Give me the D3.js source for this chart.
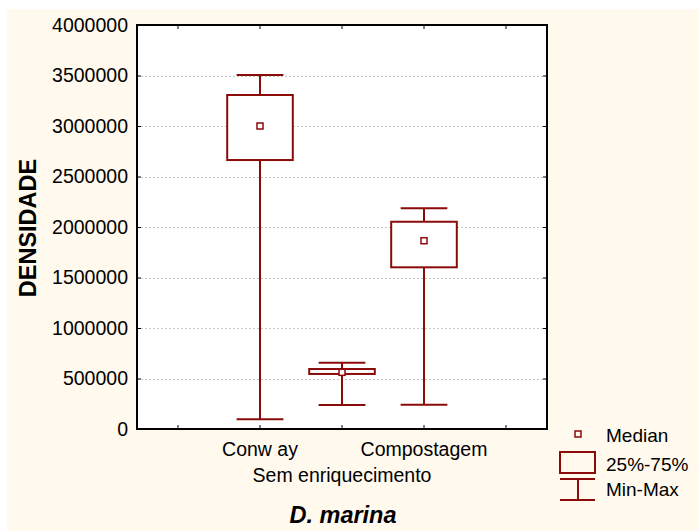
<!DOCTYPE html>
<html>
<head>
<meta charset="utf-8">
<script src="https://cdn.jsdelivr.net/npm/d3@7"></script>
<style>
  html, body { margin: 0; padding: 0; background: #fff; }
  #chart { width: 699px; height: 531px; }
  text { font-family: "Liberation Sans", Arial, sans-serif; fill: #000; }
</style>
</head>
<body>
<div id="chart"></div>
<script>
// box-plot values
const groups = ['Conw ay', 'Sem enriquecimento', 'Compostagem'];
const groupSlot = [1, 2, 3];          // which of the 5 x slots each box sits in
const slotCount = 5;
const mins    = [96000,   238000, 240000];
const q1s     = [2663000, 545000, 1601000];
const medians = [3000000, 561000, 1864000];
const q3s     = [3307000, 594000, 2052000];
const maxs    = [3505000, 656000, 2185000];
const yTicks  = [0, 500000, 1000000, 1500000, 2000000, 2500000, 3000000, 3500000, 4000000];
const legendItems = ['Median', '25%-75%', 'Min-Max'];

const W = 699, H = 531;
const plot = { left: 137, top: 25, right: 547, bottom: 429 };
const red = '#8b0a0a';

const svg = d3.select('#chart').append('svg').attr('width', W).attr('height', H);
svg.append('rect').attr('x', 7).attr('y', 9).attr('width', W - 7).attr('height', H - 9).attr('fill', '#fff9ee');
svg.append('rect').attr('x', plot.left).attr('y', plot.top)
  .attr('width', plot.right - plot.left).attr('height', plot.bottom - plot.top).attr('fill', '#fff');

const x = d3.scaleBand().domain(d3.range(slotCount)).range([plot.left, plot.right]).padding(0);
const y = d3.scaleLinear().domain([0, 4000000]).range([plot.bottom, plot.top]);
const cx = i => x(groupSlot[i]) + x.bandwidth() / 2;

// dotted grid
svg.append('g').selectAll('line').data(yTicks.filter(t => t > 0 && t < 4000000)).enter().append('line')
  .attr('x1', plot.left).attr('x2', plot.right)
  .attr('y1', d => Math.round(y(d)) + 0.5).attr('y2', d => Math.round(y(d)) + 0.5)
  .attr('stroke', '#c4c4c4').attr('stroke-dasharray', '2,2');

// axes (inward ticks)
const yAxis = svg.append('g').attr('transform', `translate(${plot.left},0)`)
  .call(d3.axisLeft(y).tickValues(yTicks).tickSizeInner(-4).tickSizeOuter(0).tickPadding(9).tickFormat(d3.format('d')));
yAxis.select('.domain').remove();
yAxis.selectAll('text').style('font-size', '19.5px');
yAxis.selectAll('line').attr('stroke', '#000');

svg.append('g').attr('transform', `translate(${plot.right},0)`)
  .call(d3.axisRight(y).tickValues(yTicks).tickSizeInner(-4).tickSizeOuter(0).tickFormat(''))
  .call(g => g.select('.domain').remove());

const xTickAt = d3.range(slotCount).map(i => x(i) + x.bandwidth() / 2);
svg.append('g').selectAll('line').data(xTickAt).enter().append('line')
  .attr('x1', d => d).attr('x2', d => d).attr('y1', plot.bottom).attr('y2', plot.bottom - 4).attr('stroke', '#000');
svg.append('g').selectAll('line').data(xTickAt).enter().append('line')
  .attr('x1', d => d).attr('x2', d => d).attr('y1', plot.top).attr('y2', plot.top + 4).attr('stroke', '#000');

svg.append('rect').attr('x', plot.left).attr('y', plot.top)
  .attr('width', plot.right - plot.left).attr('height', plot.bottom - plot.top)
  .attr('fill', 'none').attr('stroke', '#000').attr('stroke-width', 2);

// x labels, staggered on two lines
svg.append('g').selectAll('text').data(groups).enter().append('text')
  .attr('x', (d, i) => cx(i)).attr('y', (d, i) => i % 2 ? 482 : 456)
  .attr('text-anchor', 'middle').style('font-size', '19.5px').text(d => d);

// boxes
const boxW = x.bandwidth() * 0.8, capW = x.bandwidth() * 0.57;
const bx = svg.append('g').attr('stroke', red).attr('stroke-width', 2);
groups.forEach((g, i) => {
  const c = cx(i);
  bx.append('line').attr('x1', c).attr('x2', c).attr('y1', y(maxs[i])).attr('y2', y(q3s[i]));
  bx.append('line').attr('x1', c).attr('x2', c).attr('y1', y(q1s[i])).attr('y2', y(mins[i]));
  bx.append('line').attr('x1', c - capW / 2).attr('x2', c + capW / 2).attr('y1', y(maxs[i])).attr('y2', y(maxs[i]));
  bx.append('line').attr('x1', c - capW / 2).attr('x2', c + capW / 2).attr('y1', y(mins[i])).attr('y2', y(mins[i]));
  bx.append('rect').attr('x', c - boxW / 2).attr('y', y(q3s[i]))
    .attr('width', boxW).attr('height', y(q1s[i]) - y(q3s[i])).attr('fill', '#fff');
  bx.append('rect').attr('x', c - 3).attr('y', y(medians[i]) - 3).attr('width', 6).attr('height', 6)
    .attr('fill', '#fff').attr('stroke-width', 1.5);
});

// legend
const lg = svg.append('g');
const lx = 578;
lg.append('rect').attr('x', lx - 3).attr('y', 431).attr('width', 6).attr('height', 6)
  .attr('fill', 'none').attr('stroke', red).attr('stroke-width', 1.5);
lg.append('rect').attr('x', 560).attr('y', 452).attr('width', 35).attr('height', 21)
  .attr('fill', 'none').attr('stroke', red).attr('stroke-width', 2);
lg.append('line').attr('x1', 560).attr('x2', 595).attr('y1', 479).attr('y2', 479).attr('stroke', red).attr('stroke-width', 2);
lg.append('line').attr('x1', 560).attr('x2', 595).attr('y1', 500).attr('y2', 500).attr('stroke', red).attr('stroke-width', 2);
lg.append('line').attr('x1', lx).attr('x2', lx).attr('y1', 479).attr('y2', 500).attr('stroke', red).attr('stroke-width', 2);
lg.selectAll('text').data(legendItems).enter().append('text')
  .attr('x', 606).attr('y', (d, i) => [442, 471, 496][i]).style('font-size', '19px').text(d => d);

// titles
svg.append('text').attr('transform', 'translate(36,228) rotate(-90)').attr('text-anchor', 'middle')
  .style('font-size', '23.5px').style('font-weight', 'bold').text('DENSIDADE');
svg.append('text').attr('x', 343).attr('y', 523).attr('text-anchor', 'middle')
  .style('font-size', '23.5px').style('font-weight', 'bold').style('font-style', 'italic').text('D. marina');
</script>
</body>
</html>
